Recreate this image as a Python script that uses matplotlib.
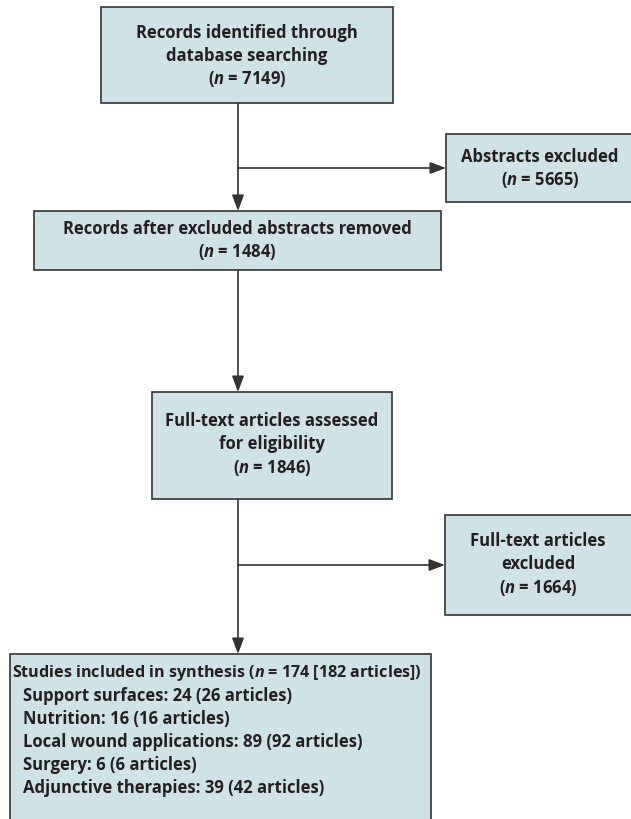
import matplotlib.pyplot as plt
from matplotlib.patches import Rectangle

plt.rcParams['font.family'] = ['Open Sans', 'DejaVu Sans']
plt.rcParams['font.weight'] = 'bold'
plt.rcParams['mathtext.fontset'] = 'custom'
plt.rcParams['mathtext.rm'] = 'Open Sans:bold'
plt.rcParams['mathtext.it'] = 'Open Sans:italic:bold'

# flow counts
identified = 7149
abstracts_excluded = 5665
after_abstracts = 1484
fulltext_assessed = 1846
fulltext_excluded = 1664
included_studies = 174
included_articles = 182

# breakdown of included studies
categories = ['Support surfaces', 'Nutrition', 'Local wound applications',
              'Surgery', 'Adjunctive therapies']
cat_studies = [24, 16, 89, 6, 39]
cat_articles = [26, 16, 92, 6, 42]

FILL = '#cfe2e6'
EDGE = '#333333'
TEXT = '#231f20'
FS = 12


def n_label(v):
    return r'($\mathit{n}$ = %d)' % v


def box(ax, x0, y0, x1, y1):
    ax.add_patch(Rectangle((x0, y0), x1 - x0, y1 - y0, facecolor=FILL,
                           edgecolor=EDGE, lw=1.2, zorder=2))


def lines(ax, xc, ys, texts, ha='center', fs=FS):
    for y, t in zip(ys, texts):
        ax.text(xc, y, t, ha=ha, va='center', fontsize=fs, color=TEXT, zorder=3)


def arrow(ax, x0, y0, x1, y1):
    ax.annotate('', xy=(x1, y1), xytext=(x0, y0),
                arrowprops=dict(arrowstyle='-|>,head_length=0.8,head_width=0.3',
                                color=EDGE, lw=1.2, shrinkA=0, shrinkB=0,
                                mutation_scale=12), zorder=1)


fig = plt.figure(figsize=(6.31, 8.20), dpi=100)
ax = fig.add_axes([0, 0, 1, 1])
ax.set_xlim(0, 631)
ax.set_ylim(820, 0)
ax.axis('off')

xm = 238

# box 1
box(ax, 101, 8, 393, 104)
lines(ax, 247, [33, 56, 79],
      ['Records identified through', 'database searching', n_label(identified)])

# abstracts excluded
box(ax, 446, 135, 640, 203)
lines(ax, 540, [157, 180], ['Abstracts excluded', n_label(abstracts_excluded)])
ax.plot([xm, xm], [104, 169], color=EDGE, lw=1.2, zorder=1)
arrow(ax, xm, 169, 446, 169)
arrow(ax, xm, 169, xm, 212)

# box 2
box(ax, 34, 212, 441, 271)
lines(ax, 237, [229, 252],
      ['Records after excluded abstracts removed', n_label(after_abstracts)])
arrow(ax, xm, 271, xm, 393)

# box 3
box(ax, 152, 393, 392, 500)
lines(ax, 272, [421, 444, 468],
      ['Full-text articles assessed', 'for eligibility', n_label(fulltext_assessed)])

# full-text excluded
box(ax, 445, 516, 640, 616)
lines(ax, 538, [541, 564, 588],
      ['Full-text articles', 'excluded', n_label(fulltext_excluded)])
ax.plot([xm, xm], [500, 566], color=EDGE, lw=1.2, zorder=1)
arrow(ax, xm, 566, 445, 566)
arrow(ax, xm, 566, xm, 655)

# box 4
box(ax, 10, 655, 431, 830)
rows = [r'Studies included in synthesis ($\mathit{n}$ = %d [%d articles])'
        % (included_studies, included_articles)]
rows += ['%s: %d (%d articles)' % (c, s, a)
         for c, s, a in zip(categories, cat_studies, cat_articles)]
ys = [673 + 23 * i for i in range(len(rows))]
lines(ax, 12, ys[:1], rows[:1], ha='left', fs=11.6)
lines(ax, 23, ys[1:], rows[1:], ha='left')

fig.savefig('out.png', dpi=100)
